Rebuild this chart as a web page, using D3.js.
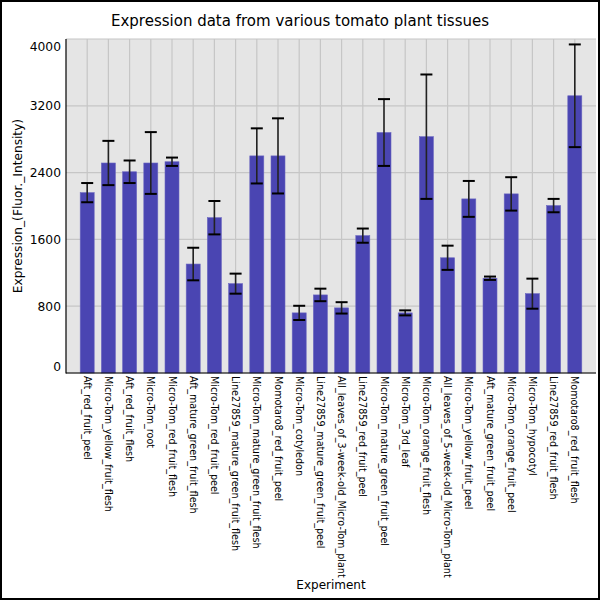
<!DOCTYPE html>
<html><head><meta charset="utf-8">
<script src="https://cdn.jsdelivr.net/npm/d3@7"></script>
<style>body{margin:0;background:#fff}svg{display:block}</style>
</head><body>
<script>
const categories = ["Aft_red_fruit_peel","Micro-Tom_yellow_fruit_flesh","Aft_red_fruit_flesh","Micro-Tom_root","Micro-Tom_red_fruit_flesh","Aft_mature_green_fruit_flesh","Micro-Tom_red_fruit_peel","Line27859_mature_green_fruit_flesh","Micro-Tom_mature_green_fruit_flesh","Momotaro8_red_fruit_peel","Micro-Tom_cotyledon","Line27859_mature_green_fruit_peel","All_leaves_of_3-week-old_Micro-Tom_plant","Line27859_red_fruit_peel","Micro-Tom_mature_green_fruit_peel","Micro-Tom_3rd_leaf","Micro-Tom_orange_fruit_flesh","All_leaves_of_5-week-old_Micro-Tom_plant","Micro-Tom_yellow_fruit_peel","Aft_mature_green_fruit_peel","Micro-Tom_orange_fruit_peel","Micro-Tom_hypocotyl","Line27859_red_fruit_flesh","Momotaro8_red_fruit_flesh"];
const values = [2160,2515,2410,2515,2530,1305,1860,1070,2600,2600,720,935,780,1645,2880,720,2830,1380,2085,1135,2145,950,2005,3320];
const errors = [115,265,135,370,50,195,200,120,330,450,85,75,68,85,400,30,745,145,215,20,200,180,80,615];
const yTicks = [0,800,1600,2400,3200,4000];
const title = "Expression data from various tomato plant tissues";
const xTitle = "Experiment";
const yTitle = "Expression_(Fluor._Intensity)";

const W=600,H=600, L=66, R=596, T=39, B=373;
const svg = d3.select("body").append("svg").attr("width",W).attr("height",H)
  .style("font-family","DejaVu Sans");
svg.append("rect").attr("x",1).attr("y",1).attr("width",W-2).attr("height",H-2)
  .attr("fill","#fff").attr("stroke","#000").attr("stroke-width",2);

const x = d3.scalePoint().domain(categories).range([L,R]).padding(1);
const y = d3.scaleLinear().domain([0,4000]).range([B,T]);

svg.append("rect").attr("x",L).attr("y",T).attr("width",R-L).attr("height",B-T).attr("fill","#e5e5e5");

// grid
svg.append("g").selectAll("line").data(yTicks).join("line")
  .attr("x1",L).attr("x2",R).attr("y1",d=>y(d)).attr("y2",d=>y(d))
  .attr("stroke","#c6c6c6").attr("stroke-width",1.2);
svg.append("g").selectAll("line").data(categories).join("line")
  .attr("x1",d=>x(d)).attr("x2",d=>x(d)).attr("y1",T).attr("y2",B)
  .attr("stroke","#c6c6c6").attr("stroke-width",1.2);

const bw = 14;
svg.append("g").selectAll("rect").data(categories).join("rect")
  .attr("x",d=>x(d)-bw/2).attr("width",bw)
  .attr("y",(d,i)=>y(values[i])).attr("height",(d,i)=>B-y(values[i]))
  .attr("fill","#4a45b2").attr("stroke","#6a66c0").attr("stroke-width",0.6);

// error bars
const eg = svg.append("g");
categories.forEach((c,i)=>{
  const cx = x(c), hi=y(values[i]+errors[i]), lo=y(values[i]-errors[i]);
  eg.append("line").attr("x1",cx).attr("x2",cx).attr("y1",hi).attr("y2",lo)
    .attr("stroke","#222").attr("stroke-width",1.6);
  [hi,lo].forEach(yy=>eg.append("line").attr("x1",cx-6).attr("x2",cx+6)
    .attr("y1",yy).attr("y2",yy).attr("stroke","#000").attr("stroke-width",2));
});

// axes lines
svg.append("line").attr("x1",L).attr("x2",L).attr("y1",T).attr("y2",B+0.5).attr("stroke","#000").attr("stroke-width",1.2);
svg.append("line").attr("x1",L).attr("x2",R).attr("y1",B).attr("y2",B).attr("stroke","#000").attr("stroke-width",1.2);

// y tick labels
svg.append("g").selectAll("text").data(yTicks).join("text")
  .attr("x",L-5).attr("y",d=>Math.min(Math.max(y(d),T+8),B-6)).attr("dy","0.35em")
  .attr("text-anchor","end").attr("font-size",12.3).attr("fill","#000").text(d=>d);

// x labels
svg.append("g").selectAll("text").data(categories).join("text")
  .attr("transform",d=>`translate(${x(d)},${B+3}) rotate(90)`)
  .attr("dy","0.35em").attr("font-size",9.6).attr("fill","#000").text(d=>d);

svg.append("text").attr("x",300).attr("y",26).attr("text-anchor","middle")
  .attr("font-size",15).text(title);
svg.append("text").attr("x",(L+R)/2).attr("y",589).attr("text-anchor","middle")
  .attr("font-size",12).text(xTitle);
svg.append("text").attr("transform",`translate(22,${(T+B)/2}) rotate(-90)`)
  .attr("text-anchor","middle").attr("font-size",12.2).text(yTitle);
</script>
</body></html>
